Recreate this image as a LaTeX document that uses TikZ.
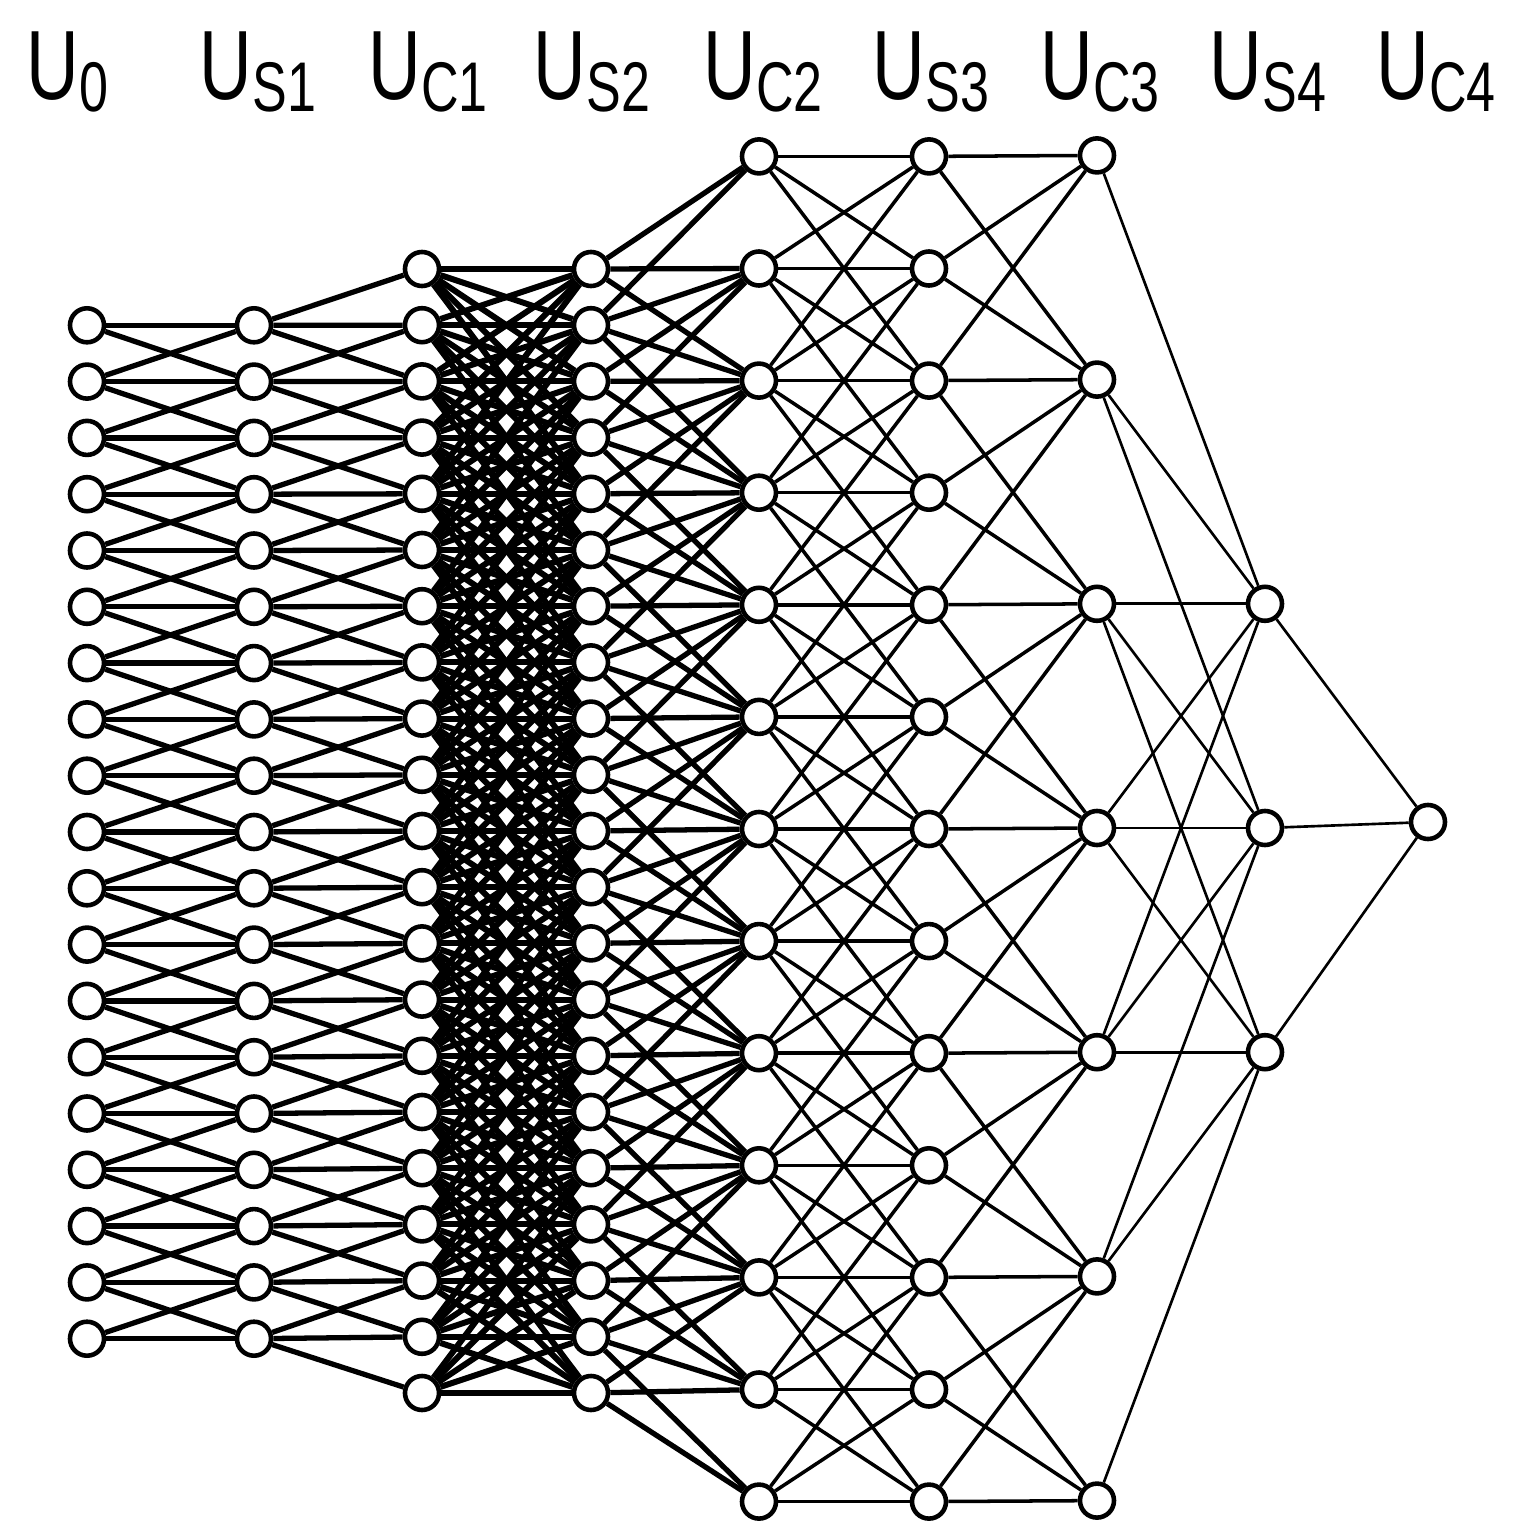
\documentclass[tikz,border=0pt]{standalone}
\usepackage{fontspec}
\setmainfont{Liberation Sans}
\usepackage{tikz}
\usetikzlibrary{backgrounds}
\newcommand{\layername}[1]{\scalebox{0.74}[1]{U\raisebox{-0.11cm}{\fontsize{20}{20}\selectfont #1}}}

\begin{document}
\begin{tikzpicture}[
    x=0.01cm, y=-0.01cm,
    cell/.style={circle, draw=black, fill=white, line width=1.3pt, minimum size=0.34cm, inner sep=0pt},
    link/.style={draw=black, line width=1pt},
    thicklink/.style={draw=black, line width=1.5pt},
    denselink/.style={draw=black, line width=1.7pt},
    thinlink/.style={draw=black, line width=0.75pt},
    layerlabel/.style={anchor=base west, inner sep=0pt, font=\fontsize{28}{28}\selectfont}
]
\useasboundingbox (0,0) rectangle (1523,1521);

% layer labels
\node[layerlabel] (lab-u0) at (26,100) {\layername{0}};
\node[layerlabel] (lab-s1) at (199,100) {\layername{S1}};
\node[layerlabel] (lab-c1) at (368,100) {\layername{C1}};
\node[layerlabel] (lab-s2) at (533,100) {\layername{S2}};
\node[layerlabel] (lab-c2) at (703,100) {\layername{C2}};
\node[layerlabel] (lab-s3) at (872,100) {\layername{S3}};
\node[layerlabel] (lab-c3) at (1040,100) {\layername{C3}};
\node[layerlabel] (lab-s4) at (1209,100) {\layername{S4}};
\node[layerlabel] (lab-c4) at (1376,100) {\layername{C4}};

% cells
\foreach \i in {0,...,18} {
  \node[cell] (u0-\i) at (87,{832+56.3*(\i-9)}) {};
  \node[cell] (s1-\i) at (254,{832+56.3*(\i-9)}) {};
}
\foreach \i in {0,...,20} {
  \node[cell] (c1-\i) at (422,{831+56.2*(\i-10)}) {};
  \node[cell] (s2-\i) at (591,{831+56.2*(\i-10)}) {};
}
\foreach \i in {0,...,12} {
  \node[cell] (c2-\i) at (759,{829+112.1*(\i-6)}) {};
  \node[cell] (s3-\i) at (929,{829+112.1*(\i-6)}) {};
}
\foreach \i in {0,...,6}
  \node[cell] (c3-\i) at (1097,{828+224.2*(\i-3)}) {};
\foreach \i in {0,1,2}
  \node[cell] (s4-\i) at (1265,{828+224.2*(\i-1)}) {};
\node[cell] (c4-0) at (1428,822) {};

% connections
\begin{scope}[on background layer]
\fill[white] (0,0) rectangle (1523,1521);
% U0 -> US1
\foreach \i in {0,...,18}
  \foreach \j in {0,...,18} {
    \pgfmathtruncatemacro\dd{abs(\i-\j)}
    \ifnum\dd<2 \draw[thicklink] (u0-\i) -- (s1-\j); \fi
  }
% US1 -> UC1
\foreach \i in {0,...,18}
  \foreach \j in {0,...,20} {
    \pgfmathtruncatemacro\dd{abs(\i+1-\j)}
    \ifnum\dd<2 \draw[thicklink] (s1-\i) -- (c1-\j); \fi
  }
% UC1 -> US2
\foreach \i in {0,...,20}
  \foreach \j in {0,...,20} {
    \pgfmathtruncatemacro\dd{abs(\i-\j)}
    \ifnum\dd<5 \draw[denselink] (c1-\i) -- (s2-\j); \fi
  }
% US2 -> UC2
\foreach \i in {0,...,20}
  \foreach \j in {0,...,12} {
    \pgfmathtruncatemacro\dd{abs(\i+2-2*\j)}
    \ifnum\dd<4 \draw[thicklink] (s2-\i) -- (c2-\j); \fi
  }
% UC2 -> US3
\foreach \i in {0,...,12}
  \foreach \j in {0,...,12} {
    \pgfmathtruncatemacro\dd{abs(\i-\j)}
    \ifnum\dd<3 \draw[link] (c2-\i) -- (s3-\j); \fi
  }
% US3 -> UC3
\foreach \i in {0,...,12}
  \foreach \j in {0,...,6} {
    \pgfmathtruncatemacro\dd{abs(\i-2*\j)}
    \ifnum\dd<3 \draw[link] (s3-\i) -- (c3-\j); \fi
  }
% UC3 -> US4
\foreach \i in {0,...,6}
  \foreach \j in {0,1,2} {
    \pgfmathtruncatemacro\dd{abs(\i-\j-2)}
    \ifnum\dd<3 \draw[thinlink] (c3-\i) -- (s4-\j); \fi
  }
% US4 -> UC4
\foreach \j in {0,1,2}
  \draw[thinlink] (s4-\j) -- (c4-0);
\end{scope}
\end{tikzpicture}
\end{document}
